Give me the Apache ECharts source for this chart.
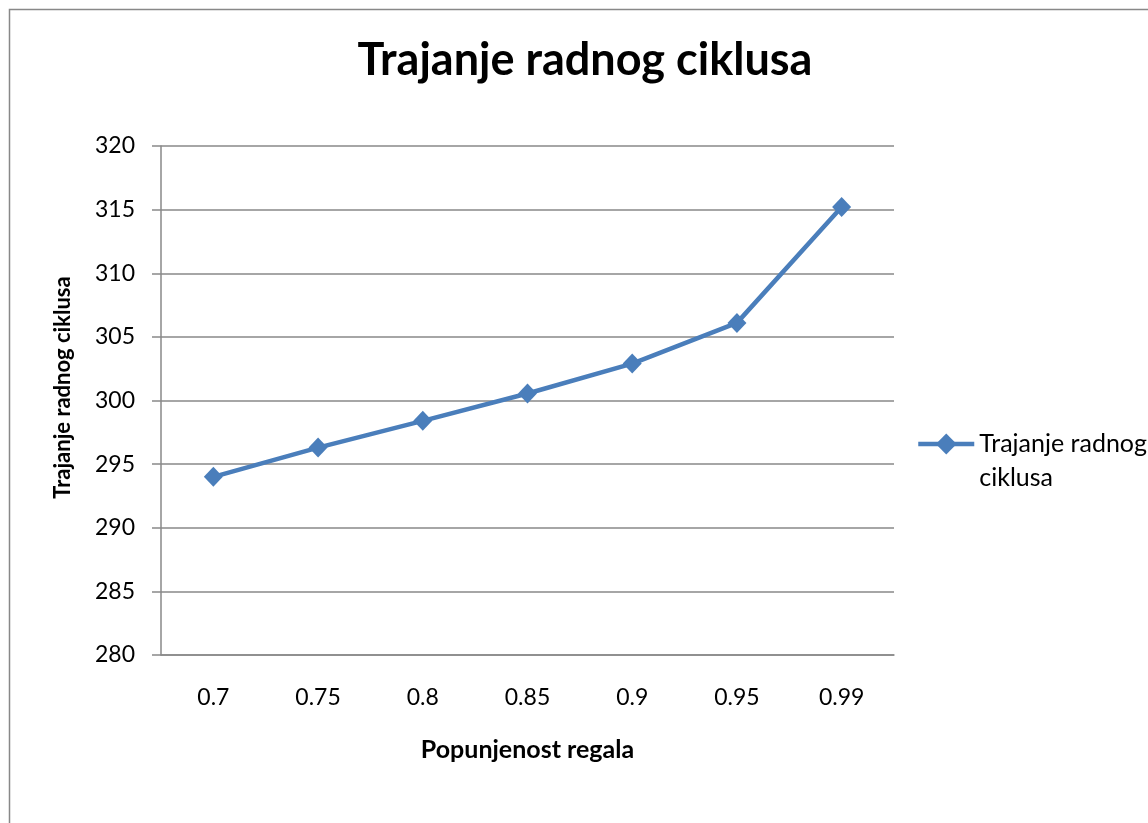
<!DOCTYPE html>
<html>
<head>
<meta charset="utf-8">
<script src="https://cdn.jsdelivr.net/npm/echarts@6/dist/echarts.min.js"></script>
<style>
  html, body { margin: 0; padding: 0; background: #ffffff; }
  #chart { width: 1148px; height: 823px; }
</style>
</head>
<body>
<div id="chart"></div>
<script>
// Fill ratio of the racks and the resulting work cycle duration
const fillLevels = ['0.7', '0.75', '0.8', '0.85', '0.9', '0.95', '0.99'];
const cycleDuration = [294.0, 296.3, 298.4, 300.55, 302.9, 306.1, 315.2];
const seriesName = 'Trajanje radnog ciklusa';
const chartTitle = 'Trajanje radnog ciklusa';
const xAxisTitle = 'Popunjenost regala';
const yAxisTitle = 'Trajanje radnog ciklusa';
const legendLines = ['Trajanje radnog', 'ciklusa'];

const FONT = 'Lato, "Open Sans", sans-serif';
const GRID_COLOR = '#898989';
const LINE_COLOR = '#4a7ebb';

const chart = echarts.init(document.getElementById('chart'), null, { renderer: 'canvas' });

chart.setOption({
  backgroundColor: '#ffffff',
  animation: false,
  textStyle: { fontFamily: FONT, color: '#000000' },
  graphic: [{
    type: 'rect',
    silent: true,
    shape: { x: 9.5, y: 9.5, width: 1300, height: 1000 },
    style: { fill: null, stroke: '#888888', lineWidth: 1.5 }
  }],
  title: {
    text: chartTitle,
    left: 585,
    textAlign: 'center',
    top: 38,
    padding: 0,
    textStyle: { fontFamily: FONT, fontWeight: 'bold', fontSize: 45, color: '#000000' }
  },
  legend: {
    left: 916,
    top: 393,
    padding: 0,
    itemWidth: 56,
    itemHeight: 26,
    lineStyle: { width: 4.5 },
    // leading blank row keeps the first text row level with the icon
    formatter: () => '{gap| }\n{t|' + legendLines[0] + '}\n{t|' + legendLines[1] + '}',
    textStyle: {
      fontFamily: FONT, fontSize: 25, color: '#000000', lineHeight: 34,
      rich: {
        gap: { fontSize: 25, lineHeight: 34 },
        t: { fontFamily: FONT, fontSize: 25, color: '#000000', lineHeight: 34 }
      }
    },
    data: [seriesName]
  },
  grid: { left: 161, right: 254, top: 146, bottom: 168, containLabel: false },
  xAxis: {
    type: 'category',
    data: fillLevels,
    boundaryGap: true,
    name: xAxisTitle,
    nameLocation: 'middle',
    nameGap: 82,
    nameTextStyle: { fontFamily: FONT, fontWeight: 'bold', fontSize: 25, color: '#000000' },
    axisLine: { show: true, lineStyle: { color: GRID_COLOR, width: 1.5 } },
    axisTick: { show: false },
    axisLabel: { fontFamily: FONT, fontSize: 23, color: '#000000', margin: 31 },
    splitLine: { show: false }
  },
  yAxis: {
    type: 'value',
    min: 280,
    max: 320,
    interval: 5,
    name: yAxisTitle,
    nameLocation: 'middle',
    nameGap: 87,
    nameTextStyle: { fontFamily: FONT, fontWeight: 'bold', fontSize: 22, color: '#000000', padding: [0, 0, 0, 26] },
    axisLine: { show: true, lineStyle: { color: GRID_COLOR, width: 1.5 } },
    axisTick: { show: true, inside: false, length: 9, lineStyle: { color: GRID_COLOR, width: 1.5 } },
    axisLabel: { fontFamily: FONT, fontSize: 23, color: '#000000', margin: 26 },
    splitLine: { show: true, lineStyle: { color: GRID_COLOR, width: 1.5 } }
  },
  series: [{
    name: seriesName,
    type: 'line',
    data: cycleDuration,
    symbol: 'diamond',
    symbolSize: [19, 20],
    lineStyle: { color: LINE_COLOR, width: 4.5 },
    itemStyle: { color: LINE_COLOR }
  }]
});
</script>
</body>
</html>
